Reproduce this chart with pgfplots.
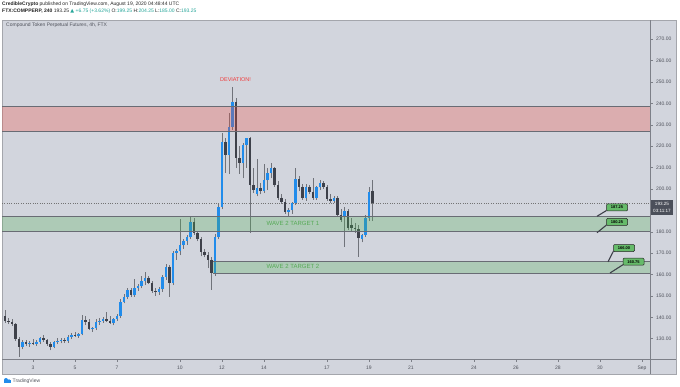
\documentclass[border=0pt]{standalone}
\usepackage{pgfplots}
\pgfplotsset{compat=1.18}
\usepackage{pgfplotstable}
\usepackage{fontspec}
\setmainfont{Liberation Sans}
\newfontfamily\dejavu{DejaVu Sans}

\definecolor{panel}{RGB}{210,213,221}
\definecolor{upc}{RGB}{33,140,235}
\definecolor{dnc}{RGB}{62,65,74}
\definecolor{wick}{RGB}{112,115,122}
\definecolor{sep}{RGB}{125,128,136}
\definecolor{lbl}{RGB}{80,83,92}
\definecolor{zred}{RGB}{244,67,54}
\definecolor{zgreen}{RGB}{76,175,80}
\definecolor{zline}{RGB}{105,108,116}
\definecolor{wave}{RGB}{85,170,85}
\definecolor{tealc}{RGB}{38,166,154}
\definecolor{callout}{RGB}{102,187,106}
\definecolor{pricebox}{RGB}{75,79,90}
\definecolor{devred}{RGB}{240,60,60}
\newcommand{\fs}[1]{\fontsize{#1}{#1}\selectfont}

% candles: n = 4h candle index (day = 1.5 + n/6, August)
\pgfplotstableread{
n o h l c
6 126.3 129.5 125 128.4
8 127.5 129 126 128.2
10 127.6 129.5 126.8 128.5
11 128.5 131 127.5 130.2
15 126.3 128.8 125.5 128.3
16 128.3 130.5 127.5 128.8
17 128.8 130.2 127.8 129.5
19 128.8 131.5 128 131
20 131 132.5 129.8 131.8
22 131.3 132.5 130.5 132
23 132 141 131.5 138.8
26 134.3 135.5 133.2 134.8
27 134.8 139 134 138
28 138 139.5 136.5 138.5
29 138.5 140 137.5 139
32 137.5 139.8 136.2 139.2
33 139.2 141.5 138.5 140.5
34 140.5 148.5 139.6 147.3
35 147.3 151 146.5 149.7
36 149.7 153.5 148.5 152.8
38 150.2 158 149.5 153.6
39 153.6 155.5 152.5 154.5
40 154.5 159.5 153.5 156.8
41 156.8 161 155 158.6
45 151.8 154 150.5 153
46 153 160 152 159
47 159 165 157.5 163.7
49 156 171 155 170
50 170 172 167 170.8
51 170.8 186 169 173.8
52 173.8 176.5 172 175.6
53 175.6 178.5 174 177.4
54 177.4 187 176.5 184.7
61 160.6 179 159.5 177.7
62 177.7 193 176.5 191.7
63 191.7 226 190.5 222
65 215.9 235.5 207 229
66 229 247.8 227.5 240.8
69 212 221.5 205 220.6
70 220.6 224 210 223.8
73 197.8 214 196.5 200.5
75 199 211.5 198 204
76 204 210 199.5 207.5
77 207.5 212 205 209.8
82 189.4 191 187.5 190.3
83 190 194 188.5 193.5
84 193.5 209.7 192.5 204.7
87 195.6 202.5 194.5 201
90 196 201.5 194.8 200.7
91 200.7 204 199.5 202.7
95 194.5 196.5 193.5 195.8
98 187 191.5 173 189.9
103 176.6 179 175 178.5
104 178.5 188 177.5 186.4
105 186.4 201 185 198.7
}\upc

\pgfplotstableread{
n o h l c
1 140.5 143.5 137.5 138.5
2 138.5 139.5 137 138
3 138 139 136 137
4 137 137.5 129 130
5 130 131 121.5 126.3
7 128.4 129.5 126.5 127.5
9 128.2 129.8 127 127.6
12 130.2 131.8 128.5 129.3
13 129.3 130 126.8 127.5
14 127.5 128.5 124.5 126.3
18 129.5 130.5 128 128.8
21 131.8 133 130.8 131.3
24 138.8 140.5 136.5 137.8
25 137.8 139 134 134.3
30 139 142.7 137.8 138.2
31 138.2 140.5 137 137.5
37 152.8 153.5 149.5 150.2
42 158.6 159.5 155.5 156
43 156 156.8 151.5 152.2
44 152.2 153.5 150 151.8
48 163.7 164.5 149.5 156
55 184.7 186.5 178.5 179.3
56 179.3 180.5 175.5 176.4
57 176.4 177.5 168.5 170.7
58 170.7 171.8 168 169.2
59 169.2 170.5 163 166.8
60 166.8 168 152.8 160.6
64 222 224 207.5 215.9
67 240.8 242.5 210 214.3
68 214.3 220 207 212
71 223.8 224.5 179.4 201.9
72 201.9 210 198 199.5
74 200.5 203 197.5 199
78 209.8 210.5 201 202
79 202 203.5 195 196
80 196 197.5 193 194
81 194 195.5 188.5 189.4
85 204.7 206 199 201
86 201 202.5 195 195.6
88 201 202 197.8 198.7
89 198.7 205 195 196
92 202.7 203.5 200 201
93 201 202 194.5 195.2
94 195.2 197.5 193.5 194.5
96 195.8 196.5 187 187.9
97 187.9 190.5 184.5 185.5
99 189.9 190.5 180.8 181.6
100 183.2 186.5 180.5 181.8
101 181.8 184 179.5 181.2
102 181.2 183 168.4 177
106 199.25 204.25 185 193.25
}\dnc

\begin{document}
\begin{tikzpicture}
\path[use as bounding box] (0,0) rectangle (680pt,386pt);
\fill[white] (0,0) rectangle (680pt,386pt);
\fill[panel] (2pt,12pt) rectangle (676pt,366pt);
\draw[sep!70, line width=0.4pt] (2pt,12pt) rectangle (676pt,366pt);

\begin{axis}[
  at={(2pt,27pt)}, anchor=south west, scale only axis,
  width=648pt, height=339pt,
  xmin=0.14, xmax=185.3, ymin=120.5, ymax=279,
  axis line style={draw=none},
  xtick={9,21,33,51,63,75,93,105,117,135,147,159,171,183},
  xticklabels={3,5,7,10,12,14,17,19,21,24,26,28,30,Sep},
  ytick={130,140,150,160,170,180,200,210,220,230,240,250,260,270},
  xtick pos=bottom, ytick pos=right, yticklabel pos=right,
  tick align=outside, major tick length=2.5pt,
  tick style={draw=sep, line width=0.4pt},
  tick label style={font=\fs{5}, text=lbl},
  xticklabel style={yshift=-1pt},
  yticklabel style={/pgf/number format/.cd, fixed, fixed zerofill, precision=2},
  /pgf/number format/assume math mode=true,
]
% current price line
\addplot[dotted, draw=black!55, line width=0.35pt] coordinates {(0.14,193.25) (185.3,193.25)};

% wicks (low to high)
\addplot[draw=wick, line width=0.6pt, mark=none, quiver={u=0, v=\thisrow{h}-\thisrow{l}}]
  table[x=n, y=l] {\upc};
\addplot[draw=wick, line width=0.6pt, mark=none, quiver={u=0, v=\thisrow{h}-\thisrow{l}}]
  table[x=n, y=l] {\dnc};
% bodies (open to close)
\addplot[draw=upc, line width=2.5pt, mark=none, quiver={u=0, v=\thisrow{c}-\thisrow{o}}]
  table[x=n, y=o] {\upc};
\addplot[draw=dnc, line width=2.5pt, mark=none, quiver={u=0, v=\thisrow{c}-\thisrow{o}}]
  table[x=n, y=o] {\dnc};

% zones
\addplot[fill=zred, fill opacity=0.27, draw=none] coordinates {(0.14,227.1) (185.3,227.1) (185.3,238.5) (0.14,238.5)} --cycle;
\addplot[draw=zline, line width=0.8pt] coordinates {(0.14,238.5) (185.3,238.5)};
\addplot[draw=zline, line width=0.8pt] coordinates {(0.14,227.1) (185.3,227.1)};

\addplot[fill=zgreen, fill opacity=0.27, draw=none] coordinates {(0.14,180.25) (185.3,180.25) (185.3,187.25) (0.14,187.25)} --cycle;
\addplot[draw=zline, line width=0.8pt] coordinates {(0.14,187.25) (185.3,187.25)};
\addplot[draw=zline, line width=0.8pt] coordinates {(0.14,180.25) (185.3,180.25)};

\addplot[fill=zgreen, fill opacity=0.27, draw=none] coordinates {(60.5,160.75) (185.3,160.75) (185.3,166) (60.5,166)} --cycle;
\addplot[draw=zline, line width=0.8pt] coordinates {(60.5,166) (185.3,166)};
\addplot[draw=zline, line width=0.8pt] coordinates {(60.5,160.75) (185.3,160.75)};
\end{axis}

% scale separators
\draw[sep, line width=0.6pt] (650pt,12pt) -- (650pt,366pt);
\draw[sep, line width=0.6pt] (2pt,27pt) -- (676pt,27pt);

% texts on chart
\node[text=devred, font=\fs{5.5}] at (235.5pt,306.7pt) {DEVIATION!};
\node[text=wave, font=\fs{6}] at (293pt,162.7pt) {WAVE 2 TARGET 1};
\node[text=wave, font=\fs{6}] at (293pt,120pt) {WAVE 2 TARGET 2};

% callouts
\draw[dnc, line width=1.1pt] (597pt,169.7pt) -- (606.5pt,175.5pt);
\node[fill=callout, draw=black!85, line width=0.5pt, rounded corners=1pt, minimum width=21pt, minimum height=7pt, inner sep=0pt, font=\fs{4}\bfseries] at (617pt,178.5pt) {187.25};
\draw[dnc, line width=1.1pt] (597pt,153.3pt) -- (606.5pt,161pt);
\node[fill=callout, draw=black!85, line width=0.5pt, rounded corners=1pt, minimum width=21pt, minimum height=7pt, inner sep=0pt, font=\fs{4}\bfseries] at (617pt,164pt) {180.25};
\draw[dnc, line width=1.1pt] (608pt,124.2pt) -- (613.5pt,135pt);
\node[fill=callout, draw=black!85, line width=0.5pt, rounded corners=1pt, minimum width=21pt, minimum height=7pt, inner sep=0pt, font=\fs{4}\bfseries] at (624pt,138pt) {166.00};
\draw[dnc, line width=1.1pt] (610pt,113pt) -- (623pt,121.3pt);
\node[fill=callout, draw=black!85, line width=0.5pt, rounded corners=1pt, minimum width=21pt, minimum height=7pt, inner sep=0pt, font=\fs{4}\bfseries] at (633.5pt,124.3pt) {160.75};

% price label on scale
\node[fill=pricebox, text=white, font=\fs{4.6}, minimum width=22pt, minimum height=7.4pt, inner sep=0pt] at (662pt,182.5pt) {193.25};
\node[fill=pricebox, text=white, font=\fs{4.6}, minimum width=22pt, minimum height=7.4pt, inner sep=0pt] at (662pt,175pt) {03:11:17};

% header
\node[anchor=west, inner sep=0pt, font=\fs{5}, text=black!85] at (2pt,382pt) {\textbf{CredibleCrypto} published on TradingView.com, August 19, 2020 04:48:44 UTC};
\node[anchor=west, inner sep=0pt, font=\fs{5}, text=black!85] at (2pt,374.3pt) {\textbf{FTX:COMPPERP, 240} 193.25 {\color{tealc}{\dejavu ▲} +6.75 (+3.62\%)} O:{\color{tealc}199.25} H:{\color{tealc}204.25} L:{\color{tealc}185.00} C:{\color{tealc}193.25}};
\node[anchor=west, inner sep=0pt, font=\fs{5}, text=lbl] at (6pt,361pt) {Compound Token Perpetual Futures, 4h, FTX};

% logo
\fill[upc] (3.5pt,3pt) rectangle (11pt,6pt);
\fill[upc] (6pt,6pt) circle (2pt);
\fill[upc] (9pt,5.5pt) circle (1.5pt);
\node[anchor=west, inner sep=0pt, font=\fs{5}, text=lbl] at (12.5pt,5pt) {TradingView};
\end{tikzpicture}
\end{document}
